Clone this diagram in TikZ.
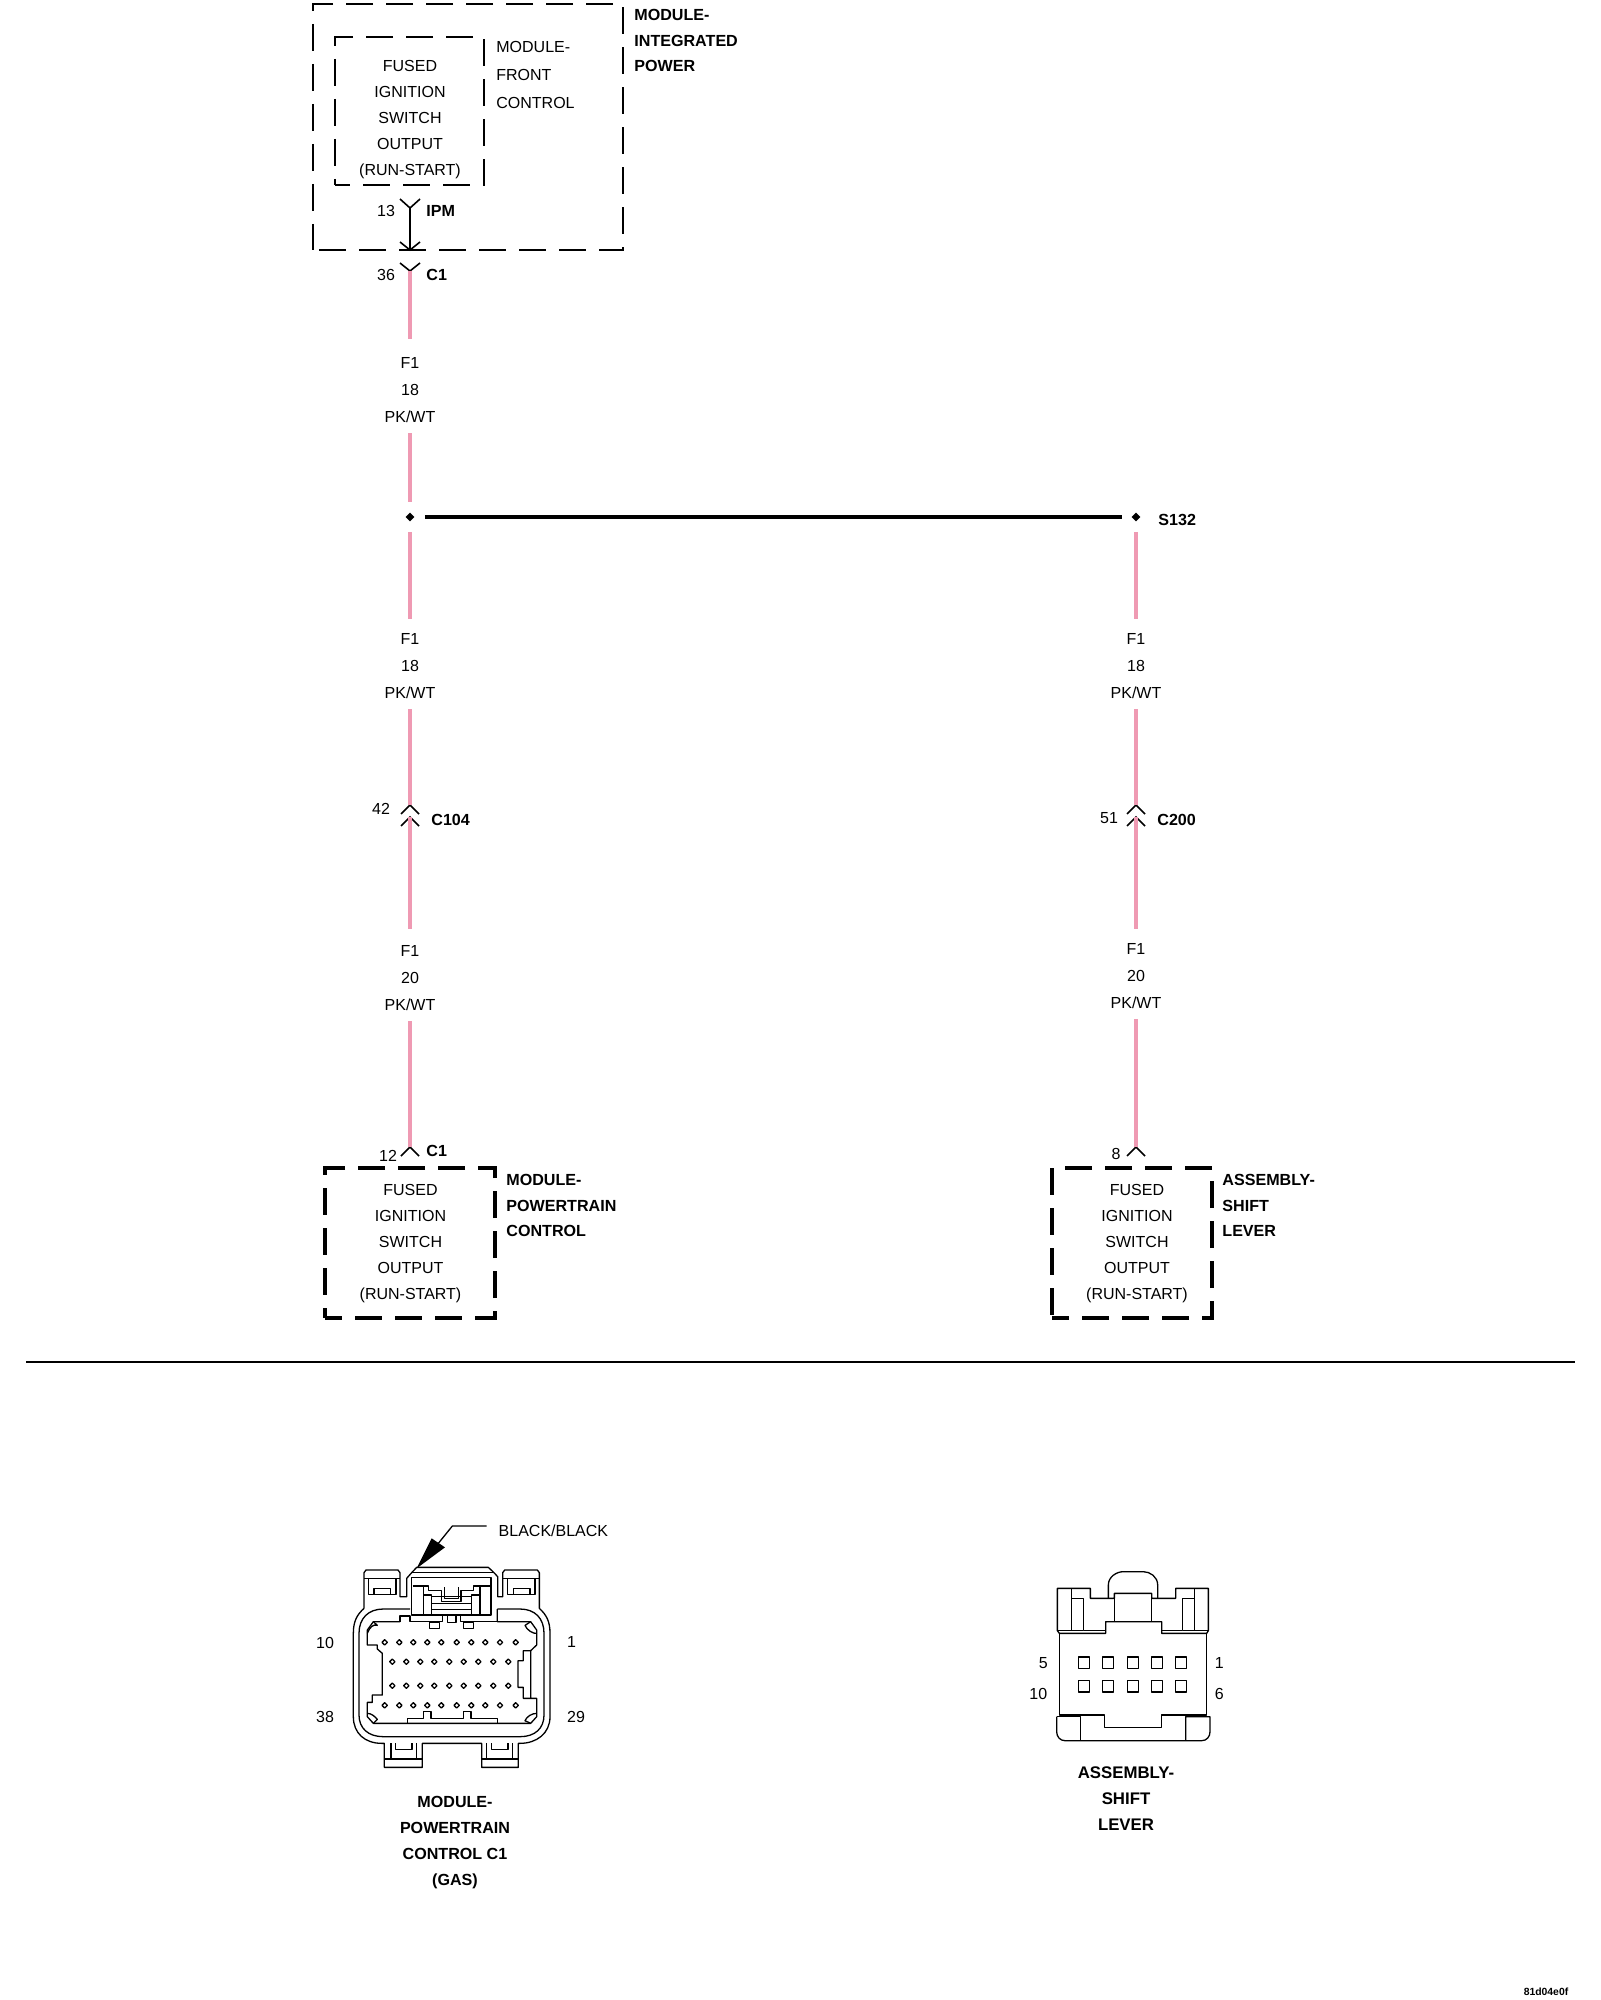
\documentclass[tikz,border=0pt]{standalone}
\usepackage{fontspec}
\setmainfont{Liberation Sans}
\usetikzlibrary{shapes.geometric}
\definecolor{wirepink}{HTML}{EF9AB3}
\begin{document}
\begin{tikzpicture}[x=0.5pt,y=-0.5pt,
txt/.style={
font=\fontsize{8}{13}\selectfont,
align=center,
inner sep=0pt
},
boldtxt/.style={
txt,
font=\fontsize{8.05}{12.8}\selectfont\bfseries,
align=left,
anchor=west
},
sidetxt/.style={
txt,
font=\fontsize{8}{14}\selectfont,
align=left,
anchor=west
},
stack/.style={
txt,
font=\fontsize{8}{13.6}\selectfont,
inner ysep=7pt
},
title/.style={
txt,
font=\fontsize{#1}{13}\selectfont\bfseries
},
dashbox/.style={
rectangle,
draw=black,
outer sep=0pt,
dash pattern=on 13.5pt off 6.5pt,
dash phase=#1
},
junction/.style={
diamond,
fill=black,
inner sep=0pt,
minimum size=4.5pt
},
wire/.style={draw=wirepink,line width=2.2pt},
fromlabel/.style={wire,shorten <=-2pt},
pin/.style={line width=0.8pt},
outline/.style={line width=0.65pt,line join=round}
]
\useasboundingbox (0,0) rectangle (1600,2000);
% Module boxes:
\node (ipm) [dashbox=17pt,line width=1.3pt,minimum width=155pt,minimum height=123pt] at (468,127) {};
\node (mfc) [dashbox=6pt,line width=0.8pt,minimum width=74.5pt,minimum height=74pt] at (409.5,111) {};
\node (pcm) [dashbox=5pt,line width=1.6pt,minimum width=85pt,minimum height=75pt] at (410,1243) {};
\node (sft) [dashbox=5pt,line width=1.6pt,minimum width=80pt,minimum height=75pt] at (1132,1243) {};
\node (mfctext) [txt] at (410,120) {FUSED\\IGNITION\\SWITCH\\OUTPUT\\(RUN-START)};
\node (pcmtext) [txt] at (410.5,1244) {FUSED\\IGNITION\\SWITCH\\OUTPUT\\(RUN-START)};
\node (sfttext) [txt] at (1137,1244) {FUSED\\IGNITION\\SWITCH\\OUTPUT\\(RUN-START)};
\node (ipmname) [boldtxt] at (634,40.5) {MODULE-\\INTEGRATED\\POWER};
\node (mfcname) [sidetxt] at (496,75) {MODULE-\\FRONT\\CONTROL};
\node (pcmname) [boldtxt] at (506,1205.5) {MODULE-\\POWERTRAIN\\CONTROL};
\node (sftname) [boldtxt] at (1222,1205.5) {ASSEMBLY-\\SHIFT\\LEVER};
% Connector pins:
\coordinate (ipmin) at (410,208);
\coordinate (ipmout) at (410,250);
\coordinate (c1top) at (410,263);
\coordinate (c1wire) at (410,271);
\coordinate (c104a) at (410,805);
\coordinate (c104b) at (410,817);
\coordinate (c200a) at (1136,805);
\coordinate (c200b) at (1136,817);
\coordinate (c1low) at (410,1147);
\coordinate (c8low) at (1136,1147);
\draw [pin] (ipmin) ++(-10,-9) -- ++(10,9) -- ++(10,-9);
\draw [pin] (ipmin) -- (ipmout);
\draw [pin] (ipmout) ++(-10,-8) -- ++(10,8) -- ++(10,-8);
\draw [pin] (c1top) ++(-10,0) -- ++(10,8) -- ++(10,-8);
\draw [pin] (c104a) ++(-9,9) -- ++(9,-9) -- ++(9,9);
\draw [pin] (c104b) ++(-9,9) -- ++(9,-9) -- ++(9,9);
\draw [pin] (c200a) ++(-9,9) -- ++(9,-9) -- ++(9,9);
\draw [pin] (c200b) ++(-9,9) -- ++(9,-9) -- ++(9,9);
\draw [pin] (c1low) ++(-9,9) -- ++(9,-9) -- ++(9,9);
\draw [pin] (c8low) ++(-9,9) -- ++(9,-9) -- ++(9,9);
\node (p13) [txt] at (386,211) {13};
\node (ipmtag) [boldtxt] at (426,211) {IPM};
\node (p36) [txt] at (386,275) {36};
\node (c1tag) [boldtxt] at (426,275) {C1};
\node (p42) [txt] at (381,809) {42};
\node (c104tag) [boldtxt] at (431,820) {C104};
\node (p51) [txt] at (1109,818) {51};
\node (c200tag) [boldtxt] at (1157,820) {C200};
\node (p12) [txt] at (388,1156) {12};
\node (c1lowtag) [boldtxt] at (426,1151) {C1};
\node (p8) [txt] at (1116,1154) {8};
% Wire labels:
\node (wtop) [stack] at (410,390) {F1\\18\\PK/WT};
\node (wleft) [stack] at (410,666) {F1\\18\\PK/WT};
\node (wright) [stack] at (1136,666) {F1\\18\\PK/WT};
\node (wpcm) [stack] at (410,978) {F1\\20\\PK/WT};
\node (wsft) [stack] at (1136,976) {F1\\20\\PK/WT};
\node (spleft) [junction] at (410,517) {};
\node (spright) [junction] at (1136,517) {};
\node (s132) [boldtxt] at (1158,520) {S132};
% Wires:
\draw [wire,shorten >=2pt] (c1wire) -- (wtop.north);
\draw [fromlabel,shorten >=7.5pt] (wtop.south) -- (spleft.center);
\draw [wire,shorten <=7.5pt] (spleft.center) -- (wleft.north);
\draw [fromlabel] (wleft.south) -- (c104a);
\draw [wire,shorten >=1pt] (c104b) -- (wpcm.north);
\draw [fromlabel] (wpcm.south) -- (c1low);
\draw [wire,shorten <=7.5pt] (spright.center) -- (wright.north);
\draw [fromlabel] (wright.south) -- (c200a);
\draw [wire] (c200b) -- (wsft.north);
\draw [fromlabel] (wsft.south) -- (c8low);
\draw [line width=1.6pt,shorten <=5pt,shorten >=4.5pt] (spleft) -- (spright);
% Divider:
\coordinate (divl) at (26,1362);
\coordinate (divr) at (1575,1362);
\draw [line width=1.1pt] (divl) -- (divr);
% Powertrain connector, coordinates in zoomed units:
\begin{scope}[shift={(290,1500)},x=0.16667pt,y=-0.16667pt]
\draw [outline] (222,325) -- (222,218) -- (228,210) -- (324,210) -- (330,218) -- (330,290) -- (350,290) -- (350,235) -- (365,218) -- (380,202) -- (595,202) -- (612,218) -- (623,230) -- (623,290) -- (638,290) -- (638,218) -- (644,210) -- (742,210) -- (748,218) -- (748,325)
 .. controls (770,345) and (780,365) .. (780,400) -- (780,650)
 .. controls (780,700) and (740,730) .. (690,730) -- (685,730) -- (685,802) -- (575,802) -- (575,730) -- (397,730) -- (397,802) -- (283,802) -- (283,730) -- (275,730)
 .. controls (225,730) and (190,700) .. (190,650) -- (190,400)
 .. controls (190,365) and (200,345) .. (222,325);
\draw [outline] (360,327) -- (280,327) .. controls (235,327) and (207,355) .. (207,400) -- (207,645) .. controls (207,685) and (235,710) .. (280,710) -- (690,710) .. controls (735,710) and (762,685) .. (762,645) -- (762,400) .. controls (762,355) and (735,327) .. (690,327) -- (622,327);
% Cavity:
\draw [outline] (330,365) -- (250,365) -- (232,390) -- (232,435) -- (262,435) -- (262,447) -- (277,460) -- (277,585) -- (247,585) -- (247,607) -- (232,607) -- (232,650) -- (250,670) -- (722,670) -- (740,650) -- (740,595) -- (722,595) -- (722,452) -- (700,452) -- (700,482) -- (684,482) -- (684,562) -- (700,562) -- (700,595) -- (722,595);
\draw [outline] (722,452) -- (740,435) -- (740,390) -- (722,365) -- (622,365) -- (622,327);
\draw [outline] (330,365) -- (330,348) -- (360,348) -- (360,365) -- (458,365) -- (458,348);
\draw [outline] (472,348) -- (472,367) -- (498,367) -- (498,348);
\draw [outline] (512,348) -- (512,365) -- (622,365);
\draw [outline] (418,367) rectangle (448,385);
\draw [outline] (520,367) rectangle (550,385);
\draw [outline] (352,670) -- (352,655) -- (400,655) -- (400,635) -- (423,635) -- (423,655) -- (520,655) -- (520,635) -- (543,635) -- (543,655) -- (622,655) -- (622,670);
\draw [outline] (232,400) .. controls (240,380) and (250,372) .. (262,376) -- (250,365);
\draw [outline] (740,400) .. controls (730,402) and (710,390) .. (705,376) -- (722,365);
\draw [outline] (232,640) .. controls (245,640) and (255,650) .. (262,658) -- (250,670);
\draw [outline] (740,640) .. controls (725,640) and (710,650) .. (705,662) -- (722,670);
% Latch:
\draw [outline] (365,345) rectangle (603,232);
\draw [outline] (365,218) -- (612,218);
\draw [outline] (368,258) -- (415,258) -- (415,272) -- (455,272) -- (455,305) -- (513,305) -- (513,272) -- (550,272) -- (550,258) -- (600,258);
\draw [outline] (463,262) -- (463,295) -- (505,295) -- (505,262);
\draw [outline] (400,258) -- (400,345);
\draw [outline] (400,285) -- (425,285) -- (425,345);
\draw [outline] (570,258) -- (570,345);
\draw [outline] (570,285) -- (545,285) -- (545,345);
\draw [outline] (425,290) -- (545,290);
\draw [outline] (425,310) -- (545,310);
\draw [outline] (425,328) -- (545,328);
% Tabs:
\draw [outline] (222,235) -- (330,235);
\draw [outline] (235,235) -- (235,283) -- (318,283) -- (318,235);
\draw [outline] (252,283) -- (252,265) -- (302,265) -- (302,283);
\draw [outline] (638,235) -- (748,235);
\draw [outline] (652,235) -- (652,283) -- (735,283) -- (735,235);
\draw [outline] (670,283) -- (670,265) -- (720,265) -- (720,283);
\draw [outline] (283,777) -- (397,777);
\draw [outline] (303,730) -- (303,777);
\draw [outline] (380,730) -- (380,777);
\draw [outline] (316,730) -- (316,748) -- (366,748) -- (366,730);
\draw [outline] (575,777) -- (685,777);
\draw [outline] (590,730) -- (590,777);
\draw [outline] (668,730) -- (668,777);
\draw [outline] (604,730) -- (604,748) -- (654,748) -- (654,730);
% Pins:
\foreach \py in {427,616}
\foreach \px in {284,328,370,412,454,500,544,586,630,677}
\draw [outline] (\px-8,\py) -- (\px,\py-8) -- (\px+8,\py) -- (\px,\py+8) -- cycle;
\foreach \py in {485,557}
\foreach \px in {307,349,391,433,478,521,565,610,655}
\draw [outline] (\px-8,\py) -- (\px,\py-8) -- (\px+8,\py) -- (\px,\py+8) -- cycle;
% Arrow to the latch:
\coordinate (latch) at (380,205);
\node (blacktag) [txt,anchor=west] at (625,92) {BLACK/BLACK};
\draw [outline] (blacktag.west) ++(-35,-14) -- (487,78) -- (445,130);
\fill (latch) -- (425,115) -- (465,142) -- cycle;
\node (n10) [txt] at (105,430) {10};
\node (n1) [txt] at (845,425) {1};
\node (n38) [txt] at (105,652) {38};
\node (n29) [txt] at (858,650) {29};
\end{scope}
\node (pcmtitle) [title=8.05] at (455,1842.5) {MODULE-\\POWERTRAIN\\CONTROL C1\\(GAS)};
% Shift lever connector, coordinates in zoomed units:
\begin{scope}[shift={(1010,1550)},x=0.16667pt,y=-0.16667pt]
\draw [outline] (142,115) -- (142,242) -- (148,250) -- (287,250) -- (287,215) -- (455,215) -- (455,250) -- (590,250) -- (595,242) -- (595,115) -- (497,115) -- (497,145) -- (425,145) -- (425,130) -- (313,130) -- (313,145) -- (241,145) -- (241,115) -- cycle;
\draw [outline] (185,115) -- (185,242) -- (221,242) -- (221,145) -- (185,145);
\draw [outline] (553,115) -- (553,242) -- (517,242) -- (517,145) -- (553,145);
\draw [outline] (142,242) -- (185,242);
\draw [outline] (221,242) -- (287,242);
\draw [outline] (455,242) -- (517,242);
\draw [outline] (553,242) -- (595,242);
\draw [outline] (313,130) -- (313,215);
\draw [outline] (425,130) -- (425,215);
\draw [outline] (295,145) -- (295,105) .. controls (295,80) and (320,65) .. (340,65) -- (400,65) .. controls (420,65) and (443,80) .. (443,105) -- (443,145);
\draw [outline] (148,250) -- (148,495) -- (283,495) -- (283,532) -- (455,532) -- (455,495) -- (590,495) -- (590,250);
\draw [outline] (140,500) -- (140,545) .. controls (140,560) and (150,572) .. (165,572) -- (575,572) .. controls (590,572) and (600,560) .. (600,545) -- (600,500) -- (527,500) -- (527,572);
\draw [outline] (140,500) -- (211,500) -- (211,572);
\foreach \px in {222,294,369,441,513}
\draw [outline] (\px-17,321) rectangle (\px+17,355);
\foreach \px in {222,294,369,441,513}
\draw [outline] (\px-17,392) rectangle (\px+17,426);
\node (n5) [txt] at (100,338) {5};
\node (n1b) [txt] at (628,338) {1};
\node (n10b) [txt] at (85,433) {10};
\node (n6) [txt] at (628,433) {6};
\end{scope}
\node (sfttitle) [title=8.4] at (1126,1799) {ASSEMBLY-\\SHIFT\\LEVER};
\node (partno) [txt,font=\fontsize{5.2}{6}\selectfont\bfseries] at (1546,1992) {81d04e0f};
\end{tikzpicture}
\end{document}
